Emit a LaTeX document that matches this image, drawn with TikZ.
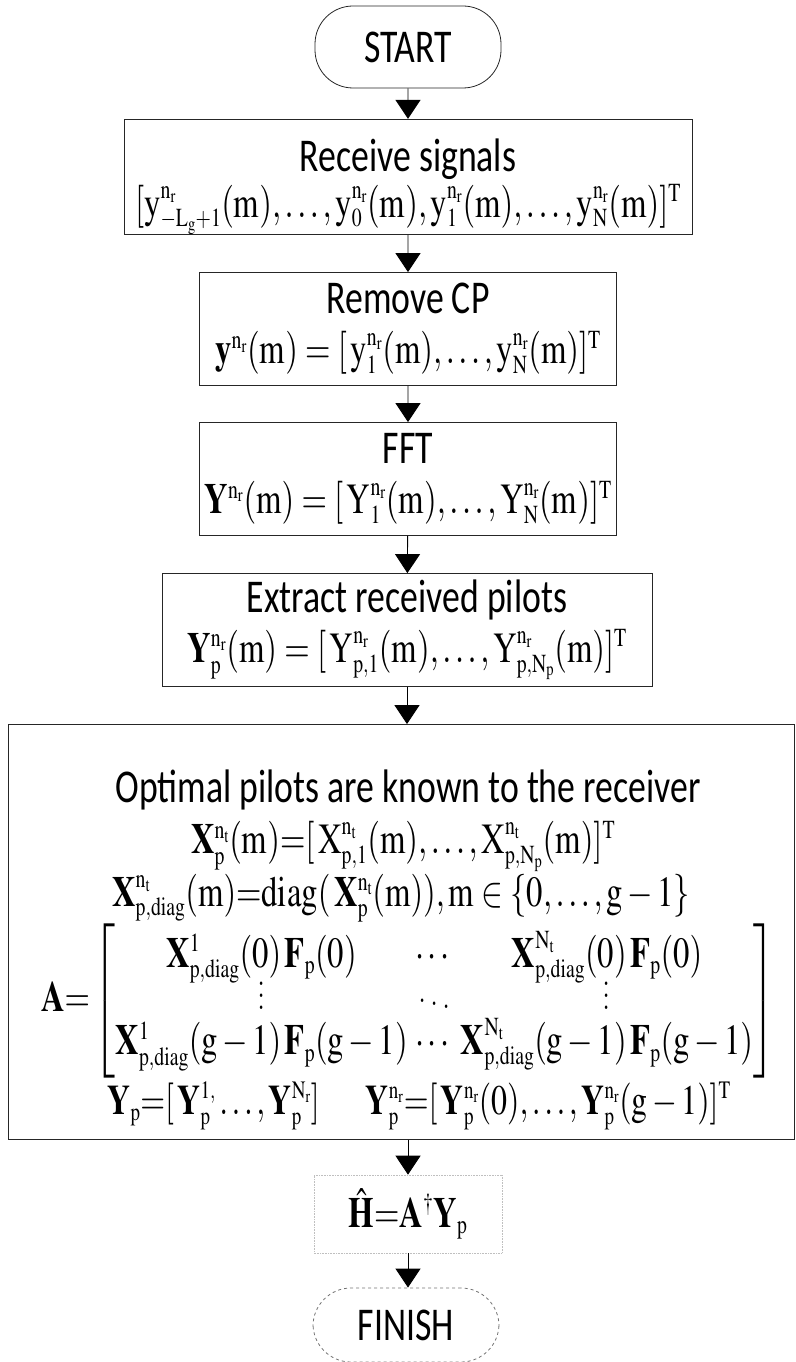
\documentclass[tikz,border=0pt]{standalone}
\usepackage{amsmath}
\usepackage{mathptmx}
\usepackage[no-math]{fontspec}
\setsansfont{Carlito}
\usetikzlibrary{positioning,arrows.meta}

\DeclareMathSizes{43}{43}{26}{19}
\DeclareMathSizes{42}{42}{25}{18}
\newcommand\lblsize{\sffamily\fontsize{47}{52}\selectfont}
\newcommand\eqsize{\fontsize{43}{48}\selectfont}
\newcommand\coldots{\vbox{\baselineskip=12pt\lineskiplimit=0pt\hbox{.}\hbox{.}\hbox{.}}}
\def\sq{0.76}

\begin{document}
\begin{tikzpicture}[x=1pt,y=-1pt,
  txt/.style={xscale=\sq, align=center, inner sep=0pt},
  stepbox/.style={txt, draw=black!85, line width=0.8pt, minimum height=113pt},
  termbox/.style={txt, draw=black!85, line width=0.8pt, rounded corners=38pt,
    minimum width=186pt/\sq, minimum height=82pt, font=\lblsize},
  flow/.style={-{Triangle[width=25pt,length=19pt]}, line width=0.9pt}]
  \useasboundingbox (0,0) rectangle (795,1362);

  % terminals and steps
  \node[termbox] (start) at (408,47) {START};
  \node[stepbox, minimum width=568pt/\sq, minimum height=114pt, font=\lblsize] (recv) at (408,177)
    {\rule{0pt}{52pt}Receive signals\\[-6pt]
     {\eqsize$\mathrm{[y^{n_r}_{-L_g+1}(m),\ldots,y^{n_r}_0(m),y^{n_r}_1(m),\ldots,y^{n_r}_N(m)]^T}$}};
  \node[stepbox, minimum width=417pt/\sq, font=\lblsize] (rmcp) at (408,329)
    {Remove CP\\[-2pt]
     {\eqsize$\mathrm{\mathbf{y}^{n_r}(m)=[\,y^{n_r}_1(m),\ldots,y^{n_r}_N(m)]^T}$}};
  \node[stepbox, minimum width=417pt/\sq, font=\lblsize] (fft) at (408,479)
    {FFT\\[-2pt]
     {\eqsize$\mathrm{\mathbf{Y}^{n_r}(m)=[\,Y^{n_r}_1(m),\ldots,Y^{n_r}_N(m)]^T}$}};
  \node[stepbox, minimum width=490pt/\sq, font=\lblsize] (pilots) at (407,630)
    {Extract received pilots\\[-2pt]
     {\eqsize$\mathrm{\mathbf{Y}^{n_r}_p(m)=[\,Y^{n_r}_{p,1}(m),\ldots,Y^{n_r}_{p,N_p}(m)]^T}$}};

  % known pilots block
  \node[stepbox, minimum width=786pt/\sq, minimum height=415pt] (known) at (401,932) {};
  \node[txt, font=\lblsize] (knowntxt) at (408,790) {Optimal pilots are known to the receiver};
  \node[txt, font=\eqsize] (xp) at (403,846)
    {$\mathrm{\mathbf{X}^{n_t}_p(m){=}[\,X^{n_t}_{p,1}(m),\ldots,X^{n_t}_{p,N_p}(m)]^T}$};
  \node[txt, font=\eqsize] (xdiag) at (401,898)
    {$\mathrm{\mathbf{X}^{n_t}_{p,diag}(m){=}diag(\,\mathbf{X}^{n_t}_p(m)),m\in\{0,\ldots,g-1\}}$};
  \node[txt, font=\eqsize] (amat) at (408,1001)
    {\renewcommand{\arraystretch}{0.8}%
     $\mathbf{A}{=}\begin{bmatrix}
      \mathbf{X}^{1}_{\mathrm{p,diag}}(0)\,\mathbf{F}_{\mathrm{p}}(0) & \cdots &
      \mathbf{X}^{\mathrm{N_t}}_{\mathrm{p,diag}}(0)\,\mathbf{F}_{\mathrm{p}}(0)\\[-2pt]
      \coldots & \ddots & \coldots\\[-2pt]
      \mathbf{X}^{1}_{\mathrm{p,diag}}(\mathrm{g}-1)\,\mathbf{F}_{\mathrm{p}}(\mathrm{g}-1) & \cdots &
      \mathbf{X}^{\mathrm{N_t}}_{\mathrm{p,diag}}(\mathrm{g}-1)\,\mathbf{F}_{\mathrm{p}}(\mathrm{g}-1)
    \end{bmatrix}$};
  \node[txt, font=\fontsize{42}{46}\selectfont] (yrow) at (419,1106)
    {$\mathrm{\mathbf{Y}_p{=}[\,\mathbf{Y}^{1,}_p\ldots,\mathbf{Y}^{N_r}_p]}\quad\;\;
      \mathrm{\mathbf{Y}^{n_r}_p{=}[\,\mathbf{Y}^{n_r}_p(0),\ldots,\mathbf{Y}^{n_r}_p(g-1)]^T}$};

  % estimate and end
  \node[txt, draw=black!25, densely dotted, line width=0.6pt, minimum width=188pt/\sq,
    minimum height=78pt, font=\eqsize] (est) at (408,1214)
    {$\hat{\mathbf{H}}{=}\mathbf{A}^{\dagger}\mathbf{Y}_{\mathrm{p}}$};
  \node[termbox, draw=black!55, dashed, minimum height=74pt] (finish) at (406,1325) {FINISH};

  % connectors
  \draw[flow] (start) -- (recv);
  \draw[flow] (recv) -- (rmcp);
  \draw[flow] (rmcp) -- (fft);
  \draw[flow] (fft) -- (pilots);
  \draw[flow] (pilots.south) -- (pilots.south |- known.north);
  \draw[flow] (est.north |- known.south) -- (est.north);
  \draw[flow] (est.south) -- (est.south |- finish.north);
\end{tikzpicture}
\end{document}
